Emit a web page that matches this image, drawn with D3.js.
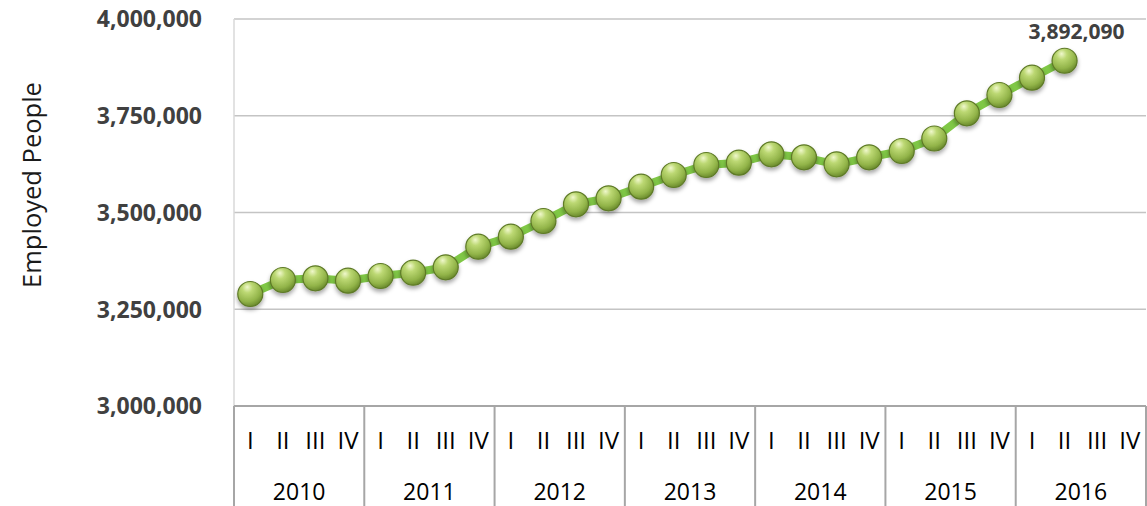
<!DOCTYPE html>
<html>
<head>
<meta charset="utf-8">
<title>Employed People</title>
<script src="https://d3js.org/d3.v7.min.js"></script>
<style>
  body { margin: 0; background: #fff; }
  svg { display: block; font-family: "Open Sans", sans-serif; }
</style>
</head>
<body>
<svg width="1147" height="506"></svg>
<script>
// data
var years = ["2010", "2011", "2012", "2013", "2014", "2015", "2016"];
var quarters = ["I", "II", "III", "IV"];
var employed = [
  3289400, 3325600, 3330000, 3323800,   // 2010
  3335900, 3344400, 3358400, 3411600,   // 2011
  3437500, 3478000, 3521200, 3536700,   // 2012
  3566700, 3596900, 3622700, 3628700,   // 2013
  3650400, 3642600, 3624500, 3642600,   // 2014
  3658900, 3691200, 3756300, 3803600,   // 2015
  3848300, 3892090                      // 2016 (I, II)
];
var yTicks = [3000000, 3250000, 3500000, 3750000, 4000000];

var svg = d3.select("svg");
var plot = {left: 234, right: 1146, top: 19, bottom: 406};

// one band per quarter
var keys = [];
years.forEach(function(y) { quarters.forEach(function(q) { keys.push(y + "-" + q); }); });

var x = d3.scaleBand().domain(keys).range([plot.left, plot.right]);
var xYear = d3.scaleBand().domain(years).range([plot.left, plot.right]);
var y = d3.scaleLinear().domain([3000000, 4000000]).range([plot.bottom, plot.top]);

var pts = employed.map(function(v, i) { return {key: keys[i], value: v}; });

// defs: sphere gradient + shadow
var defs = svg.append("defs");
var grad = defs.append("radialGradient").attr("id", "ball")
  .attr("cx", "40%").attr("cy", "30%").attr("r", "70%").attr("fx", "38%").attr("fy", "22%");
grad.append("stop").attr("offset", "0%").attr("stop-color", "#f0f8cc");
grad.append("stop").attr("offset", "30%").attr("stop-color", "#bcd873");
grad.append("stop").attr("offset", "75%").attr("stop-color", "#92b449");
grad.append("stop").attr("offset", "100%").attr("stop-color", "#6c8c2e");

var sh = defs.append("filter").attr("id", "shadow")
  .attr("x", "-50%").attr("y", "-50%").attr("width", "200%").attr("height", "200%");
sh.append("feDropShadow").attr("dx", 0).attr("dy", 3).attr("stdDeviation", 2)
  .attr("flood-color", "#000").attr("flood-opacity", 0.35);

// gridlines
svg.append("g").selectAll("line")
  .data(yTicks.slice(1))
  .join("line")
  .attr("x1", plot.left).attr("x2", plot.right)
  .attr("y1", function(d) { return y(d); }).attr("y2", function(d) { return y(d); })
  .attr("stroke", "#c4c4c4").attr("stroke-width", 1.5);

// left plot border
svg.append("line")
  .attr("x1", plot.left).attr("x2", plot.left)
  .attr("y1", plot.top).attr("y2", plot.bottom)
  .attr("stroke", "#d9d9d9").attr("stroke-width", 1.5);

// y labels
svg.append("g").selectAll("text")
  .data(yTicks)
  .join("text")
  .attr("x", 202)
  .attr("y", function(d) { return y(d); })
  .attr("dy", "0.36em")
  .attr("text-anchor", "end")
  .attr("font-size", 23)
  .attr("font-weight", "bold")
  .attr("fill", "#404040")
  .text(d3.format(","));

// y title
svg.append("text")
  .attr("transform", "translate(41,185) rotate(-90)")
  .attr("text-anchor", "middle")
  .attr("font-size", 25.5)
  .attr("fill", "#1a1a1a")
  .text("Employed People");

// category axis
svg.append("line")
  .attr("x1", plot.left).attr("x2", plot.right)
  .attr("y1", plot.bottom).attr("y2", plot.bottom)
  .attr("stroke", "#a6a6a6").attr("stroke-width", 2);

svg.append("g").selectAll("line")
  .data(years.concat(["end"]))
  .join("line")
  .attr("x1", function(d) { return d === "end" ? plot.right : xYear(d); })
  .attr("x2", function(d) { return d === "end" ? plot.right : xYear(d); })
  .attr("y1", plot.bottom).attr("y2", 506)
  .attr("stroke", "#a6a6a6").attr("stroke-width", 2);

svg.append("g").selectAll("text")
  .data(keys)
  .join("text")
  .attr("x", function(d) { return x(d) + x.bandwidth() / 2; })
  .attr("y", 449)
  .attr("text-anchor", "middle")
  .attr("font-size", 24)
  .attr("fill", "#000")
  .text(function(d) { return d.split("-")[1]; });

svg.append("g").selectAll("text")
  .data(years)
  .join("text")
  .attr("x", function(d) { return xYear(d) + xYear.bandwidth() / 2; })
  .attr("y", 500)
  .attr("text-anchor", "middle")
  .attr("font-size", 23)
  .attr("fill", "#000")
  .text(function(d) { return d; });

// line
var line = d3.line()
  .x(function(d) { return x(d.key) + x.bandwidth() / 2; })
  .y(function(d) { return y(d.value); });

svg.append("path")
  .datum(pts)
  .attr("d", line)
  .attr("fill", "none")
  .attr("stroke", "#80c846")
  .attr("stroke-width", 8)
  .attr("stroke-linejoin", "round");

// markers
svg.append("g").selectAll("circle")
  .data(pts)
  .join("circle")
  .attr("cx", function(d) { return x(d.key) + x.bandwidth() / 2; })
  .attr("cy", function(d) { return y(d.value); })
  .attr("r", 12.5)
  .attr("fill", "url(#ball)")
  .attr("stroke", "#5e7a27")
  .attr("stroke-width", 1.2)
  .attr("filter", "url(#shadow)");

// data label on last point
var last = pts[pts.length - 1];
svg.append("text")
  .attr("x", x(last.key) + x.bandwidth() / 2 + 12)
  .attr("y", y(last.value) - 22)
  .attr("text-anchor", "middle")
  .attr("font-size", 21)
  .attr("font-weight", "bold")
  .attr("fill", "#404040")
  .text(d3.format(",")(last.value));
</script>
</body>
</html>
